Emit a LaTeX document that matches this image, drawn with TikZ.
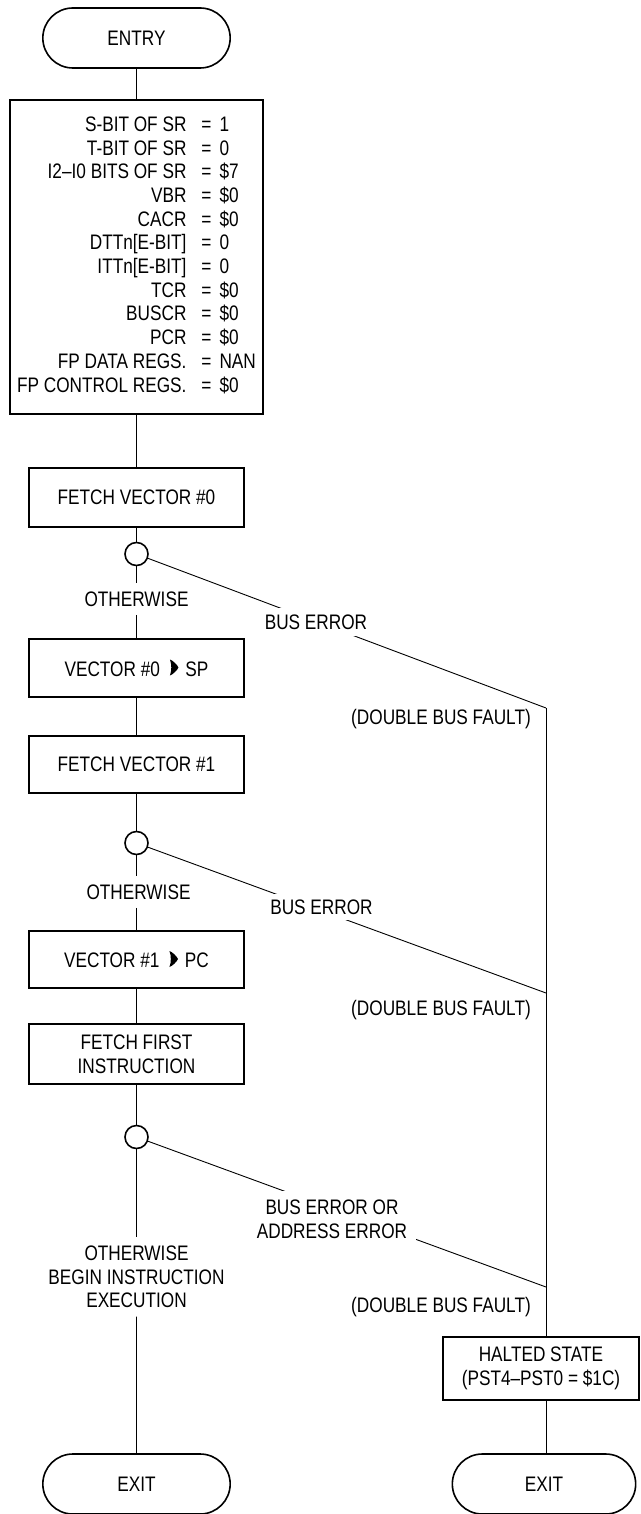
\documentclass[tikz,border=0pt]{standalone}
\usepackage{fontspec}
\setmainfont{Liberation Sans}[FakeStretch=0.82]
\usetikzlibrary{shapes.misc}
\newcommand{\fetcharrow}{\tikz[x=1pt,y=1pt,baseline=-0.8pt]\fill (0,0) .. controls (1.8,5) and (1.8,11) .. (0,16) .. controls (3,15) and (7.5,10.5) .. (8.5,8) .. controls (7.5,5.5) and (3,1) .. (0,0) -- cycle;}

\begin{document}
\begin{tikzpicture}[x=1pt,y=-1pt,line width=0.9pt,
  font=\fontsize{21pt}{23.7pt}\selectfont,
  box/.style={draw,line width=2pt,minimum width=215pt,minimum height=58pt,inner sep=0pt,align=center},
  term/.style={draw,rounded rectangle,line width=1.6pt,minimum width=194pt,minimum height=60pt},
  dec/.style={draw,circle,line width=1.6pt,minimum size=23pt,inner sep=0pt},
  lbl/.style={align=center,inner sep=8pt},
  cut/.style={fill=white,align=center,inner sep=7pt}]
  \useasboundingbox (0,0) rectangle (640,1514);

  \node[term] (entry) at (136.5,38) {ENTRY};
  \node[draw,line width=2pt,minimum width=253pt,minimum height=314pt,inner sep=0pt] (init) at (136.5,257) {%
    \begin{tabular}{@{}r@{\hspace{15pt}}c@{\hspace{8pt}}l@{}}
      S-BIT OF SR & = & 1\\
      T-BIT OF SR & = & 0\\
      I2–I0 BITS OF SR & = & \$7\\
      VBR & = & \$0\\
      CACR & = & \$0\\
      DTTn[E-BIT] & = & 0\\
      ITTn[E-BIT] & = & 0\\
      TCR & = & \$0\\
      BUSCR & = & \$0\\
      PCR & = & \$0\\
      FP DATA REGS. & = & NAN\\
      FP CONTROL REGS. & = & \$0
    \end{tabular}};
  \node[box,minimum height=59pt] (fv0) at (136.5,497.5) {FETCH VECTOR \#0};
  \node[dec] (dec0) at (136.5,554) {};
  \node[lbl] (ow0) at (136.5,599) {OTHERWISE};
  \node[box] (vsp) at (136.5,668) {VECTOR \#0\hspace{10pt}\fetcharrow\hspace{7pt}SP};
  \node[box,minimum height=57pt] (fv1) at (136.5,764.5) {FETCH VECTOR \#1};
  \node[dec] (dec1) at (136.5,843) {};
  \node[lbl] (ow1) at (138.5,892) {OTHERWISE};
  \node[box,minimum height=57pt] (vpc) at (136.5,959.5) {VECTOR \#1\hspace{10pt}\fetcharrow\hspace{7pt}PC};
  \node[box,minimum height=60pt] (ffi) at (136.5,1054) {FETCH FIRST\\INSTRUCTION};
  \node[dec] (dec2) at (136.5,1137) {};
  \node[lbl] (ow2) at (136.5,1277) {OTHERWISE\\BEGIN INSTRUCTION\\EXECUTION};
  \node[term] (exitL) at (136.5,1484) {EXIT};

  \coordinate (j0) at (546,708);
  \coordinate (j1) at (546,993);
  \coordinate (j2) at (546,1287);
  \node (dbf0) at (441,719) {(DOUBLE BUS FAULT)};
  \node (dbf1) at (441,1010) {(DOUBLE BUS FAULT)};
  \node (dbf2) at (441,1307) {(DOUBLE BUS FAULT)};
  \node[box,minimum width=196pt,minimum height=63pt] (halted) at (541,1368.5) {HALTED STATE\\(PST4–PST0 = \$1C)};
  \node[term,minimum width=190pt] (exitR) at (544,1484) {EXIT};

  \draw (entry) -- (init);
  \draw (init) -- (fv0);
  \draw (fv0) -- (dec0);
  \draw (dec0) -- (ow0);
  \draw (ow0) -- (vsp);
  \draw (vsp) -- (fv1);
  \draw (fv1) -- (dec1);
  \draw (dec1) -- (ow1.north -| dec1);
  \draw (ow1.south -| vpc) -- (vpc);
  \draw (vpc) -- (ffi);
  \draw (ffi) -- (dec2);
  \draw (dec2) -- (ow2);
  \draw (ow2) -- (exitL);

  \draw (dec0) -- (j0);
  \draw (dec1) -- (j1);
  \draw (dec2) -- (j2);
  \draw (j0) -- (halted.north -| j0);
  \draw (halted.south -| j0) -- (exitR.north -| j0);

  \node[cut] (be0) at (316,622) {BUS ERROR};
  \node[cut,inner sep=6pt] (be1) at (321.5,907) {BUS ERROR};
  \node[cut,inner sep=9pt] (be2) at (332,1219) {BUS ERROR OR\\ADDRESS ERROR};
\end{tikzpicture}
\end{document}
